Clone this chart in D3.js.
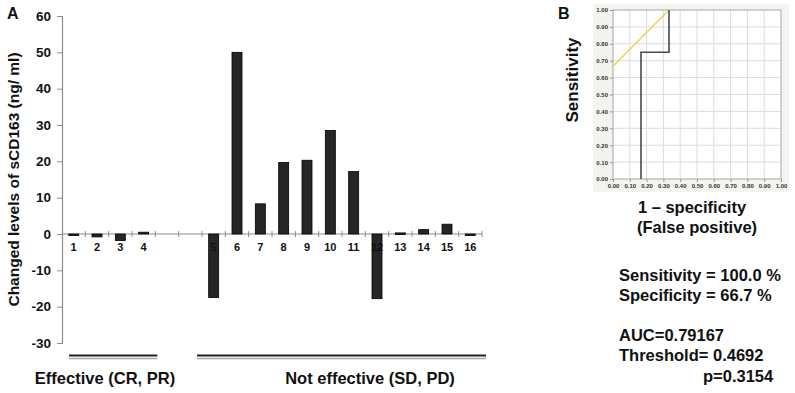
<!DOCTYPE html>
<html>
<head>
<meta charset="utf-8">
<script src="https://cdn.jsdelivr.net/npm/d3@7"></script>
<style>
  body { margin: 0; background: #fff; }
  svg text { font-family: "Liberation Sans", Arial, sans-serif; font-weight: bold; }
</style>
</head>
<body>
<div id="chart"></div>
<script>
// ---- data ----
const patients = ["1","2","3","4","5","6","7","8","9","10","11","12","13","14","15","16"];
const changes = [-0.3, -0.8, -1.8, 0.5, -17.5, 50, 8.3, 19.7, 20.3, 28.5, 17.2, -17.8, 0.3, 1.2, 2.7, -0.3];
const groupOf = [0,0,0,0,1,1,1,1,1,1,1,1,1,1,1,1];
const groups = ["Effective (CR, PR)", "Not effective (SD, PD)"];
const yTicks = [-30, -20, -10, 0, 10, 20, 30, 40, 50, 60];

const rocTicks = [0, 0.1, 0.2, 0.3, 0.4, 0.5, 0.6, 0.7, 0.8, 0.9, 1.0];
const rocFpr = [0.1667, 0.1667, 0.3333, 0.3333];
const rocTpr = [0, 0.75, 0.75, 1.0];
const refFpr = [0, 0.3333];
const refTpr = [0.6667, 1.0];
const stats = ["Sensitivity = 100.0 %", "Specificity = 66.7 %", "", "AUC=0.79167", "Threshold= 0.4692"];
const pText = "p=0.3154";

const svg = d3.select("#chart").append("svg")
    .attr("width", 795)
    .attr("height", 393);

// ================= Panel A =================
// slots: two empty ones between the groups
const slots = [];
patients.forEach((p, i) => {
    slots.push(p);
    if (i < patients.length - 1 && groupOf[i] !== groupOf[i + 1]) {
        slots.push("gapA", "gapB");
    }
});

const x = d3.scaleBand().domain(slots).range([62, 482]).paddingInner(0).paddingOuter(0);
const y = d3.scaleLinear().domain([-30, 60]).range([343, 16]);
const bw = 10;

// y axis (plain hyphen minus like the original)
const yAxis = svg.append("g")
    .attr("transform", "translate(62,0)")
    .call(d3.axisLeft(y).tickValues(yTicks).tickFormat(d => String(d)).tickSize(5).tickPadding(6));
yAxis.select(".domain").attr("stroke", "#8c8c8c").attr("stroke-width", 1.2);
yAxis.selectAll(".tick line").attr("stroke", "#8c8c8c");
yAxis.selectAll(".tick text")
    .attr("font-size", 13.5)
    .attr("font-family", "Liberation Sans, Arial, sans-serif")
    .attr("font-weight", "bold")
    .attr("fill", "#111");

// zero line with slot ticks
svg.append("line")
    .attr("x1", 62).attr("x2", 482)
    .attr("y1", y(0)).attr("y2", y(0))
    .attr("stroke", "#8c8c8c").attr("stroke-width", 1.2);
const bounds = slots.map(s => x(s)).concat([x(slots[slots.length - 1]) + x.bandwidth()]);
svg.append("g").selectAll("line")
    .data(bounds.slice(1))
    .join("line")
    .attr("x1", d => d).attr("x2", d => d)
    .attr("y1", y(0) - 3).attr("y2", y(0) + 3)
    .attr("stroke", "#8c8c8c");

// bars
svg.append("g").selectAll("rect")
    .data(changes)
    .join("rect")
    .attr("x", (d, i) => x(patients[i]) + x.bandwidth() / 2 - bw / 2)
    .attr("y", d => y(Math.max(0, d)))
    .attr("width", bw)
    .attr("height", d => Math.max(1.5, Math.abs(y(d) - y(0))))
    .attr("fill", "#262626")
    .attr("stroke", "#000")
    .attr("stroke-width", 0.8);

// patient numbers
svg.append("g").selectAll("text")
    .data(patients)
    .join("text")
    .attr("x", d => x(d) + x.bandwidth() / 2)
    .attr("y", y(0) + 17)
    .attr("text-anchor", "middle")
    .attr("font-size", 11)
    .attr("fill", "#111")
    .text(d => d);

// y title
svg.append("text")
    .attr("transform", `translate(19,${y(15)}) rotate(-90)`)
    .attr("text-anchor", "middle")
    .attr("font-size", 15.5)
    .attr("fill", "#111")
    .text("Changed levels of sCD163 (ng/ ml)");

svg.append("text")
    .attr("x", 7).attr("y", 19)
    .attr("font-size", 16)
    .attr("fill", "#111")
    .text("A");

// group underlines and labels
groups.forEach((g, gi) => {
    const members = patients.filter((p, i) => groupOf[i] === gi);
    const first = members[0], last = members[members.length - 1];
    const x0 = gi === 0 ? x(first) + 7 : x(first) - 5;
    const x1 = x(last) + x.bandwidth() + (gi === 0 ? 2 : 4);
    svg.append("line")
        .attr("x1", x0).attr("x2", x1)
        .attr("y1", 358.5).attr("y2", 358.5)
        .attr("stroke", "#a8a8a8").attr("stroke-width", 1.5);
    svg.append("line")
        .attr("x1", x0).attr("x2", x1)
        .attr("y1", 355.5).attr("y2", 355.5)
        .attr("stroke", "#222").attr("stroke-width", 2);
    svg.append("text")
        .attr("x", gi === 0 ? 105 : 370)
        .attr("y", 384)
        .attr("text-anchor", "middle")
        .attr("font-size", 16.5)
        .attr("fill", "#111")
        .text(g);
});

// ================= Panel B =================
const rx = d3.scaleLinear().domain([0, 1]).range([613, 781]);
const ry = d3.scaleLinear().domain([0, 1]).range([179, 10]);

svg.append("rect")
    .attr("x", 593).attr("y", 4)
    .attr("width", 196).attr("height", 188)
    .attr("fill", "#f3f3ef");
svg.append("rect")
    .attr("x", rx(0)).attr("y", ry(1))
    .attr("width", rx(1) - rx(0)).attr("height", ry(0) - ry(1))
    .attr("fill", "#fff");

// grid
svg.append("g").selectAll("line")
    .data(rocTicks.slice(1, -1))
    .join("line")
    .attr("x1", d => rx(d)).attr("x2", d => rx(d))
    .attr("y1", ry(0)).attr("y2", ry(1))
    .attr("stroke", "#dcdcdc");
svg.append("g").selectAll("line")
    .data(rocTicks.slice(1, -1))
    .join("line")
    .attr("x1", rx(0)).attr("x2", rx(1))
    .attr("y1", d => ry(d)).attr("y2", d => ry(d))
    .attr("stroke", "#dcdcdc");
svg.append("rect")
    .attr("x", rx(0)).attr("y", ry(1))
    .attr("width", rx(1) - rx(0)).attr("height", ry(0) - ry(1))
    .attr("fill", "none")
    .attr("stroke", "#b4b4b4")
    .attr("stroke-width", 1.2);

const fmt = d3.format(".2f");
const rxAxis = svg.append("g")
    .attr("transform", `translate(0,${ry(0)})`)
    .call(d3.axisBottom(rx).tickValues(rocTicks).tickFormat(fmt).tickSize(3).tickPadding(2));
const ryAxis = svg.append("g")
    .attr("transform", `translate(${rx(0)},0)`)
    .call(d3.axisLeft(ry).tickValues(rocTicks).tickFormat(fmt).tickSize(3).tickPadding(2));
[rxAxis, ryAxis].forEach(a => {
    a.select(".domain").remove();
    a.selectAll(".tick line").attr("stroke", "#999");
    a.selectAll(".tick text")
        .attr("font-size", 6)
        .attr("font-family", "Liberation Sans, Arial, sans-serif")
        .attr("font-weight", "normal")
        .attr("fill", "#333");
});

// reference (yellow) line and ROC step
const line = d3.line().x(d => rx(d[0])).y(d => ry(d[1]));
svg.append("path")
    .attr("d", line(d3.zip(refFpr, refTpr)))
    .attr("fill", "none")
    .attr("stroke", "#e6d446")
    .attr("stroke-width", 1.3);
svg.append("path")
    .attr("d", line(d3.zip(rocFpr, rocTpr)))
    .attr("fill", "none")
    .attr("stroke", "#4a4a4a")
    .attr("stroke-width", 1.6);

svg.append("text")
    .attr("x", 558).attr("y", 19)
    .attr("font-size", 16)
    .attr("fill", "#111")
    .text("B");

svg.append("text")
    .attr("transform", "translate(578,80) rotate(-90)")
    .attr("text-anchor", "middle")
    .attr("font-size", 17)
    .attr("fill", "#111")
    .text("Sensitivity");

svg.append("text")
    .attr("x", 692).attr("y", 213)
    .attr("text-anchor", "middle")
    .attr("font-size", 16.5)
    .attr("fill", "#111")
    .text("1 \u2013 specificity");
svg.append("text")
    .attr("x", 697).attr("y", 233)
    .attr("text-anchor", "middle")
    .attr("font-size", 16.5)
    .attr("fill", "#111")
    .text("(False positive)");

// statistics
svg.append("g").selectAll("text")
    .data(stats)
    .join("text")
    .attr("x", 619)
    .attr("y", (d, i) => 281 + i * 20)
    .attr("font-size", 16.5)
    .attr("fill", "#111")
    .text(d => d);
svg.append("text")
    .attr("x", 703)
    .attr("y", 382)
    .attr("font-size", 16.5)
    .attr("fill", "#111")
    .text(pText);
</script>
</body>
</html>
